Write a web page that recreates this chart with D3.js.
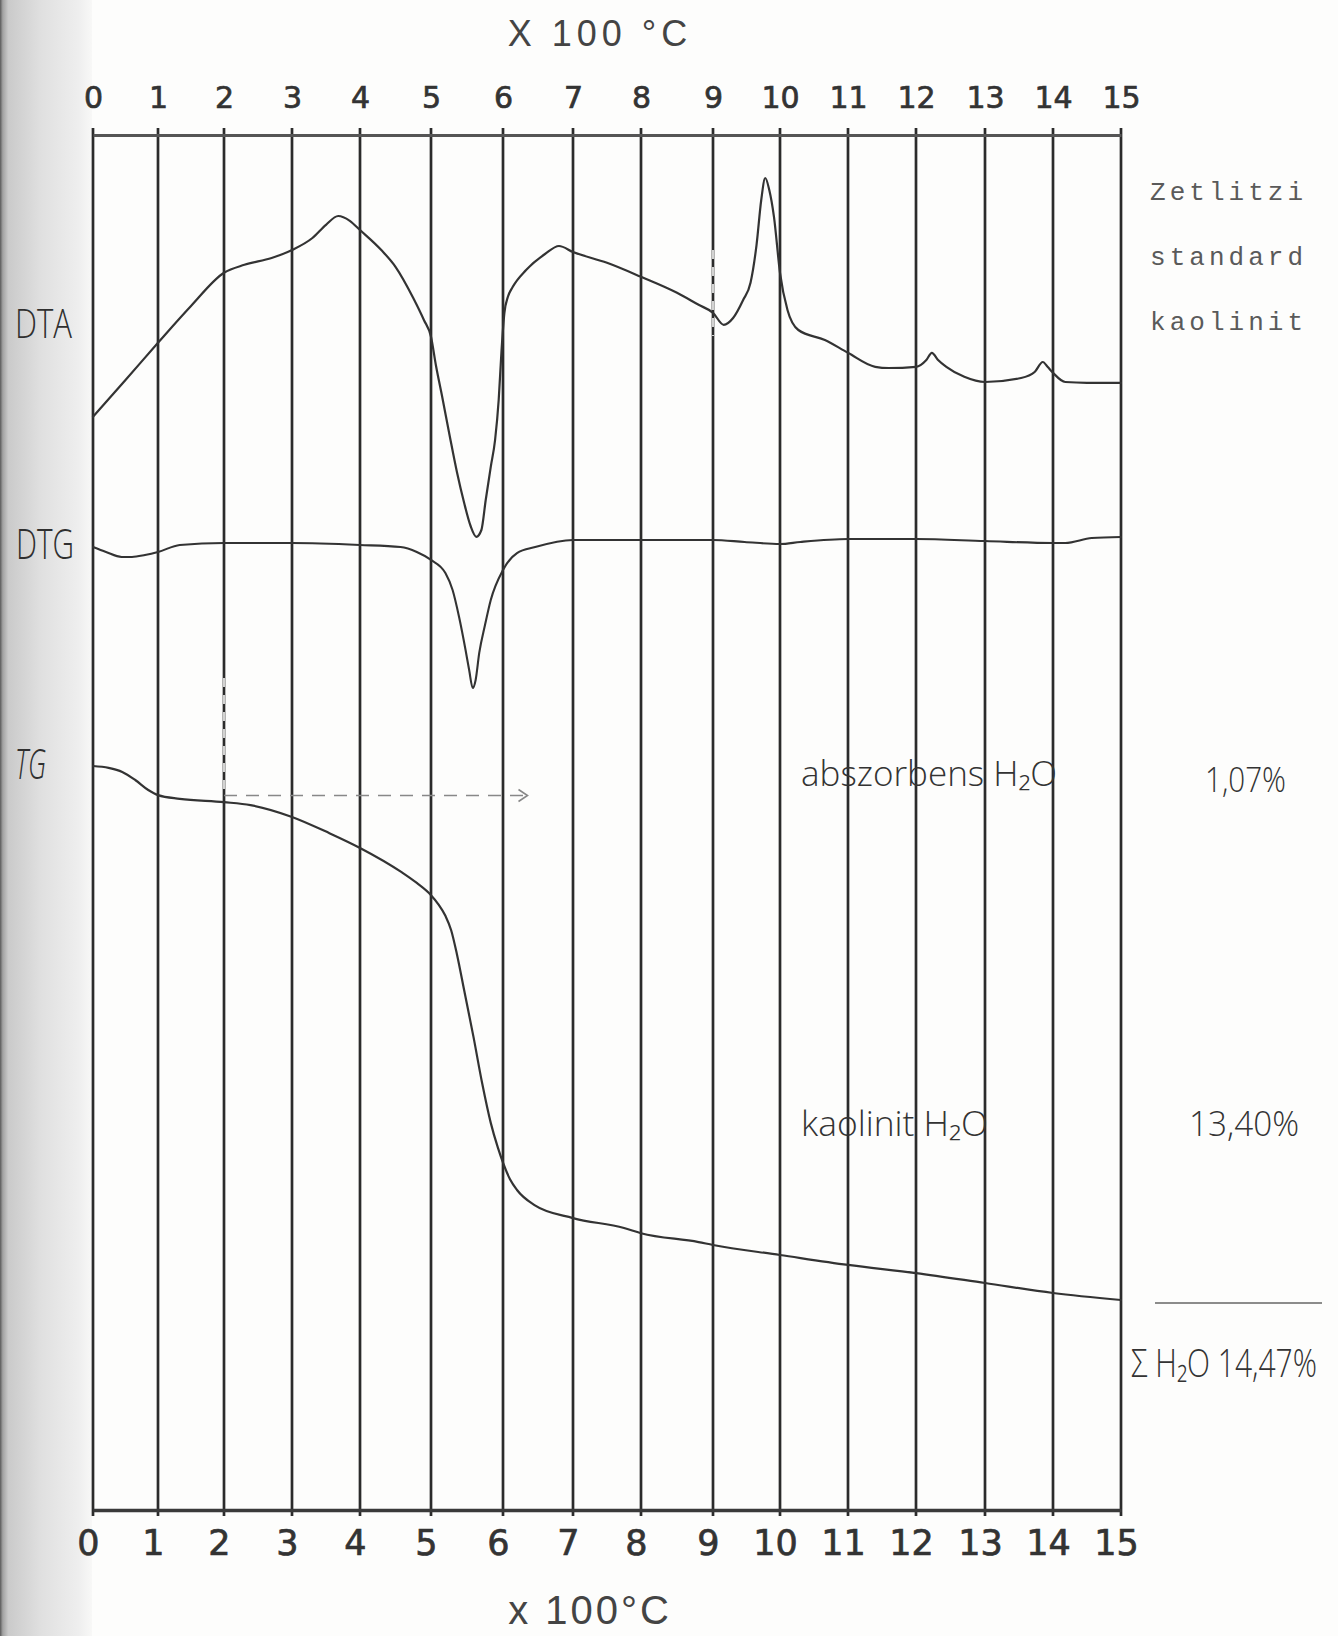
<!DOCTYPE html>
<html>
<head>
<meta charset="utf-8">
<script src="https://cdn.jsdelivr.net/npm/d3@7"></script>
<style>
  html, body { margin: 0; padding: 0; background: #fdfdfc; }
  svg { display: block; }
</style>
</head>
<body>
<svg id="chart" width="1338" height="1636"></svg>
<script>
// Temperature grid, ×100 °C
const tempTicks = d3.range(0, 16);
const tickLabels = tempTicks.map(String);

// DTA trace (temperature ×100 °C, signal in arbitrary units)
const dtaTemp = [0, 0.5, 1, 1.5, 2, 2.3, 2.7, 3, 3.3, 3.5, 3.68, 3.85, 4, 4.3, 4.5, 4.75, 4.9, 5, 5.07,
  5.15, 5.26, 5.36, 5.46, 5.55, 5.63, 5.7, 5.76, 5.83, 5.89, 5.94, 5.98, 6.02, 6.07, 6.14, 6.33, 6.6, 6.8,
  7, 7.5, 8, 8.5, 8.8, 9, 9.16, 9.3, 9.45, 9.56, 9.65, 9.72, 9.78, 9.84, 9.91, 10, 10.11, 10.27,
  10.66, 11, 11.4, 11.6, 12, 12.15, 12.23, 12.32, 12.44, 12.7, 13, 13.53, 13.73, 13.85, 13.92,
  14, 14.18, 14.5, 15];
const dtaSignal = [35.8, 45, 54.3, 63.5, 71.8, 73.8, 75.5, 77.5, 80.5, 83.8, 86, 84.8, 82.5, 77.5, 73.3, 65.5, 60, 55.8, 48.5,
  41.3, 31, 22, 14.3, 8.5, 5.8, 7.5, 15, 23.3, 30, 40, 52.5, 61.8, 65.8, 68.3, 72.5, 76.5, 78.5,
  77, 74.3, 70.8, 66.8, 63.8, 61.8, 58.8, 60.5, 65, 69.3, 78.8, 90, 95.5, 92.5, 85.8, 71.8, 62.5, 57.5,
  55, 51.8, 48.3, 48, 48.3, 50, 51.8, 50, 48.3, 45.8, 44.5, 45.5, 47, 49.5, 48.3,
  46.8, 44.5, 44.3, 44.3];

// DTG trace (rate of mass change, arbitrary units)
const dtgTemp = [0, 0.2, 0.44, 0.6, 0.8, 1, 1.33, 2, 3, 4, 4.57, 4.8, 5, 5.2, 5.3, 5.39, 5.48,
  5.53, 5.58, 5.62, 5.67, 5.75, 5.83, 6, 6.2, 6.46, 7, 8, 9, 9.47, 10, 10.3, 11, 12, 13, 14,
  14.18, 14.57, 15];
const dtgRate = [-0.047, -0.08, -0.113, -0.113, -0.1, -0.08, -0.033, -0.02, -0.02, -0.033, -0.047, -0.08, -0.133, -0.22, -0.333, -0.513, -0.733,
  -0.867, -0.987, -0.933, -0.753, -0.567, -0.4, -0.2, -0.087, -0.047, 0, 0, 0, -0.013, -0.027, -0.013, 0.007, 0.007, -0.007, -0.02,
  -0.02, 0.013, 0.02];

// TG trace (mass loss, %)
const tgTemp = [0, 0.24, 0.45, 0.65, 0.85, 1, 1.33, 2, 2.39, 3, 3.55, 4, 4.58, 4.8, 5, 5.1, 5.2, 5.28, 5.36, 5.46,
  5.59, 5.71, 5.83, 5.93, 6, 6.1, 6.2, 6.45, 7, 7.75, 8, 8.8, 9, 10, 11, 12, 13, 14, 15];
const tgLoss = [0, 0.05, 0.16, 0.38, 0.65, 0.79, 0.89, 0.98, 1.06, 1.38, 1.82, 2.22, 2.87, 3.17, 3.5, 3.74, 4.06, 4.45, 5.1, 6.07,
  7.34, 8.59, 9.67, 10.35, 10.75, 11.2, 11.49, 11.9, 12.25, 12.52, 12.66, 12.9, 12.98, 13.25, 13.52, 13.74, 14.01, 14.28, 14.47];

// Water content read from the TG step
const waterNames = ["abszorbens H₂O", "kaolinit H₂O"];
const waterPct = ["1,07%", "13,40%"];
const totalWater = 14.47;
const absorbedEnd = 6.35;   // arrow end, ×100 °C
const absorbedLevel = 0.8;  // TG level of the first plateau, %

const curveNames = ["DTA", "DTG", "TG"];
const sampleLines = ["Zetlitzi", "standard", "kaolinit"];

const svg = d3.select("#chart");

// Scanned page edge on the left
const defs = svg.append("defs");
const edge = defs.append("linearGradient").attr("id", "edge").attr("x1", 0).attr("x2", 1);
[[0, "#5a5a5a"], [0.03, "#a2a2a2"], [0.09, "#cacaca"], [0.45, "#e0e0e0"], [0.85, "#eeeeee"], [1, "#f8f8f7"]]
  .forEach(([o, c]) => edge.append("stop").attr("offset", o).attr("stop-color", c));
svg.append("rect").attr("x", 0).attr("y", 0).attr("width", 92).attr("height", 1636).attr("fill", "url(#edge)");

// Scales: the hand-ruled temperature lines are not quite evenly spaced
const x = d3.scaleLinear().domain(tempTicks)
  .range([93, 158, 224, 292, 360, 431, 503, 573, 641, 713, 780, 848, 916, 985, 1053, 1121]);
const yDTA = d3.scaleLinear().domain([0, 100]).range([560, 160]);
const yDTG = d3.scaleLinear().domain([-1, 0]).range([690, 540]);
const yTG = d3.scaleLinear().domain([0, totalWater]).range([766, 1300]);

const plotTop = 135, plotBottom = 1510;

// Vertical temperature grid
svg.append("g").selectAll("line").data(tempTicks).join("line")
  .attr("x1", d => x(d)).attr("x2", d => x(d))
  .attr("y1", plotTop - 7).attr("y2", plotBottom + 6)
  .attr("stroke", "#2b2b2b").attr("stroke-width", 2.7);

// Pen-erased stretches on two grid lines
[[2, 678, 790], [9, 250, 336]].forEach(([t, y1, y2]) => {
  svg.append("line").attr("x1", x(t)).attr("x2", x(t)).attr("y1", y1).attr("y2", y2)
    .attr("stroke", "#fdfdfc").attr("stroke-width", 1.6).attr("stroke-dasharray", "9 8");
});

// Top and bottom axes
const topAxis = svg.append("g").attr("transform", `translate(0,${plotTop})`)
  .call(d3.axisTop(x).tickValues(tempTicks).tickFormat((d, i) => tickLabels[i]).tickSize(0).tickPadding(27));
topAxis.select(".domain").attr("stroke", "#555").attr("stroke-width", 3);
topAxis.selectAll("text")
  .attr("font-family", "DejaVu Sans").attr("font-size", 30).attr("fill", "#333")
  .attr("stroke", "#333").attr("stroke-width", 0.7);

const botAxis = svg.append("g").attr("transform", `translate(0,${plotBottom})`)
  .call(d3.axisBottom(x).tickValues(tempTicks).tickFormat((d, i) => tickLabels[i]).tickSize(0).tickPadding(20));
botAxis.select(".domain").attr("stroke", "#3a3a3a").attr("stroke-width", 3.5);
botAxis.selectAll("text")
  .attr("font-family", "DejaVu Sans").attr("font-size", 35).attr("fill", "#333")
  .attr("stroke", "#333").attr("stroke-width", 0.7)
  .attr("dx", -5);

// Axis titles
svg.append("text").attr("x", 600).attr("y", 46).attr("text-anchor", "middle")
  .attr("font-family", "Liberation Sans").attr("font-size", 36).attr("letter-spacing", 5)
  .attr("fill", "#444").text("X 100 °C");
svg.append("text").attr("x", 590).attr("y", 1624).attr("text-anchor", "middle")
  .attr("font-family", "Liberation Sans").attr("font-size", 40).attr("letter-spacing", 3)
  .attr("fill", "#444").text("x 100°C");

// Curves
const drawCurve = (xs, ys, yScale, w) => {
  const pts = xs.map((t, i) => [x(t), yScale(ys[i])]);
  svg.append("path").attr("d", d3.line().curve(d3.curveMonotoneX)(pts))
    .attr("fill", "none").attr("stroke", "#333").attr("stroke-width", w)
    .attr("stroke-linejoin", "round").attr("stroke-linecap", "round");
};
drawCurve(dtaTemp, dtaSignal, yDTA, 2.2);
drawCurve(dtgTemp, dtgRate, yDTG, 2.1);
drawCurve(tgTemp, tgLoss, yTG, 2.2);

// Curve names on the left
const hand = "Open Sans, Liberation Sans Narrow, sans-serif";
[[curveNames[0], 15, 338, 57, 40, "normal"],
 [curveNames[1], 16, 559, 58, 42, "normal"],
 [curveNames[2], 15, 779, 31, 42, "italic"]].forEach(([t, tx, ty, len, fs, st]) => {
  svg.append("text").attr("x", tx).attr("y", ty)
    .attr("font-family", hand).attr("font-weight", 300).attr("font-size", fs).attr("font-style", st)
    .attr("fill", "#2f2f2f").attr("textLength", len).attr("lengthAdjust", "spacingAndGlyphs").text(t);
});

// Sample name, typewritten
sampleLines.forEach((t, i) => {
  svg.append("text").attr("x", 1150).attr("y", 200 + i * 65)
    .attr("font-family", "Liberation Mono, DejaVu Sans Mono, monospace").attr("font-size", 26)
    .attr("fill", "#5a5a5a").attr("textLength", 153).attr("lengthAdjust", "spacing").text(t);
});

// Absorbed water: dashed arrow along the first plateau
const ay = yTG(absorbedLevel);
svg.append("line").attr("x1", x(2)).attr("x2", x(absorbedEnd) - 2).attr("y1", ay).attr("y2", ay)
  .attr("stroke", "#888").attr("stroke-width", 1.6).attr("stroke-dasharray", "13 9");
svg.append("path")
  .attr("d", `M${x(absorbedEnd) - 9},${ay - 6} L${x(absorbedEnd)},${ay} L${x(absorbedEnd) - 9},${ay + 6}`)
  .attr("fill", "none").attr("stroke", "#888").attr("stroke-width", 1.6);

// Water annotations
const noteFont = (sel, fs) => sel.attr("font-family", hand).attr("font-weight", 300).attr("font-size", fs)
  .attr("fill", "#333").attr("lengthAdjust", "spacingAndGlyphs");
noteFont(svg.append("text").attr("x", 801).attr("y", 786).attr("textLength", 256), 34).text(waterNames[0]);
noteFont(svg.append("text").attr("x", 1205).attr("y", 792).attr("textLength", 81), 34).text(waterPct[0]);
noteFont(svg.append("text").attr("x", 801).attr("y", 1136).attr("textLength", 187), 34).text(waterNames[1]);
noteFont(svg.append("text").attr("x", 1189).attr("y", 1136).attr("textLength", 110), 34).text(waterPct[1]);

// Total water: rule at the final TG level and the summed percentage, narrowed like the handwriting
svg.append("line").attr("x1", 1155).attr("x2", 1322)
  .attr("y1", yTG(totalWater) + 3).attr("y2", yTG(totalWater) + 3)
  .attr("stroke", "#666").attr("stroke-width", 1.6);
const totalText = svg.append("text").attr("x", 0).attr("y", 0)
  .attr("font-family", hand).attr("font-weight", 300).attr("font-size", 38).attr("fill", "#333")
  .text("Σ H₂O " + String(totalWater).replace(".", ",") + "%");
const natural = totalText.node().getComputedTextLength();
totalText.attr("transform", `translate(1131,1377) scale(${186 / natural},1)`);
</script>
</body>
</html>
